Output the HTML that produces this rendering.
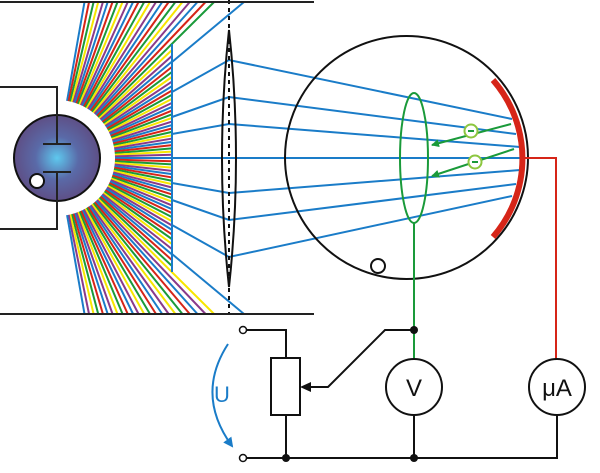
<!DOCTYPE html>
<html><head><meta charset="utf-8"><style>html,body{margin:0;padding:0;background:#fff;width:600px;height:473px;overflow:hidden}</style></head>
<body>
<svg id="s" width="600" height="473" viewBox="0 0 600 473" xmlns="http://www.w3.org/2000/svg">
<defs>
<radialGradient id="g" cx="0.5" cy="0.5" r="0.5"><stop offset="0" stop-color="#5ec8ee"/><stop offset="0.5" stop-color="#5a6aa8"/><stop offset="1" stop-color="#5e4f86"/></radialGradient>
<marker id="ag" markerWidth="8" markerHeight="8" refX="7" refY="4" orient="auto" markerUnits="userSpaceOnUse"><path d="M0,0 L8,4 L0,8 Z" fill="#1a9a3a"/></marker>
<marker id="ab" markerWidth="10" markerHeight="10" refX="8" refY="5" orient="auto" markerUnits="userSpaceOnUse"><path d="M0,0 L10,5 L0,10 Z" fill="#1a7cc8"/></marker>
</defs>
<g id="rays" stroke-width="2"></g>
<circle cx="57" cy="158" r="57" fill="#fff"/>
<line x1="172" y1="44" x2="172" y2="272" stroke="#1a7cc8" stroke-width="2"/>
<g stroke="#1a7cc8" stroke-width="2" fill="none">
<polyline points="172,62 244,2"/>
<polyline points="172,254 244,314"/>
<polyline points="172,92 229,60 512,119"/>
<polyline points="172,117 229,97 516,134"/>
<polyline points="172,134 229,124 520,147"/>
<polyline points="172,158 520,158"/>
<polyline points="172,183 229,193 520,170"/>
<polyline points="172,200 229,220 516,184"/>
<polyline points="172,225 229,257 512,196"/>
</g>
<path d="M229,30 Q243,158 229,287 Q215,158 229,30 Z" fill="none" stroke="#111" stroke-width="2"/>
<line x1="229" y1="0" x2="229" y2="314" stroke="#111" stroke-width="2" stroke-dasharray="4,4"/>
<line x1="0" y1="2" x2="314" y2="2" stroke="#222" stroke-width="2"/>
<line x1="0" y1="314" x2="314" y2="314" stroke="#222" stroke-width="2"/>
<circle cx="57" cy="158" r="43" fill="url(#g)" stroke="#111" stroke-width="2"/>
<g stroke="#222" stroke-width="2" fill="none">
<polyline points="0,87 57,87 57,144"/>
<polyline points="0,229 57,229 57,172"/>
<line x1="43" y1="144" x2="71" y2="144"/>
<line x1="43" y1="172" x2="71" y2="172"/>
</g>
<circle cx="37" cy="181" r="7" fill="#fff" stroke="#111" stroke-width="2"/>
<circle cx="406.5" cy="157.5" r="121.5" fill="none" stroke="#111" stroke-width="2"/>
<circle cx="378" cy="266" r="7" fill="none" stroke="#111" stroke-width="2"/>
<path d="M493,80 A119.4,119.4 0 0 1 493,237" fill="none" stroke="#d62518" stroke-width="6"/>
<polyline points="522,158 556,158 556,359" fill="none" stroke="#d62518" stroke-width="2"/>
<ellipse cx="414" cy="158" rx="14" ry="65" fill="none" stroke="#1a9a3a" stroke-width="2"/>
<line x1="414" y1="223" x2="414" y2="359" stroke="#1a9a3a" stroke-width="2"/>
<line x1="511" y1="124" x2="432" y2="145" stroke="#1a9a3a" stroke-width="2" marker-end="url(#ag)"/>
<line x1="514" y1="149" x2="432" y2="176" stroke="#1a9a3a" stroke-width="2" marker-end="url(#ag)"/>
<g fill="#fff" stroke="#8cc63f" stroke-width="2"><circle cx="471" cy="131" r="6.5"/><circle cx="475" cy="162" r="6.5"/></g>
<g stroke="#1a9a3a" stroke-width="2"><line x1="468" y1="131" x2="474" y2="131"/><line x1="472" y1="162" x2="478" y2="162"/></g>
<g stroke="#111" stroke-width="2" fill="none">
<polyline points="246,330 286,330 286,358"/>
<rect x="271" y="358" width="29" height="57" fill="#fff"/>
<polyline points="286,415 286,458"/>
<polyline points="246,458 557,458 557,415"/>
<polyline points="414,330 385,330 328,387 308,387"/>
<line x1="414" y1="415" x2="414" y2="458"/>
</g>
<path d="M300,387 L311,382 L311,392 Z" fill="#111"/>
<g fill="#111"><circle cx="414" cy="330" r="4"/><circle cx="286" cy="458" r="4"/><circle cx="414" cy="458" r="4"/></g>
<g fill="#fff" stroke="#111" stroke-width="1.5"><circle cx="243" cy="330" r="3.5"/><circle cx="243" cy="458" r="3.5"/></g>
<circle cx="414" cy="387" r="28" fill="#fff" stroke="#111" stroke-width="2"/>
<circle cx="557" cy="387" r="28" fill="#fff" stroke="#111" stroke-width="2"/>
<text x="414" y="396" font-family="Liberation Sans, sans-serif" font-size="24" text-anchor="middle" fill="#111">V</text>
<text x="557" y="396" font-family="Liberation Sans, sans-serif" font-size="24" text-anchor="middle" fill="#111">μA</text>
<path d="M228,344 Q195,395 232,446" fill="none" stroke="#1a7cc8" stroke-width="2" marker-end="url(#ab)"/>
<text x="222" y="402" font-family="Liberation Sans, sans-serif" font-size="22" text-anchor="middle" fill="#1a7cc8">U</text>
</svg>
<script>
var g=document.getElementById('rays');var cols=['#1a7cc8','#d62518','#1a9a3a','#f7e600','#8a3a8a'];
var cx=57,cy=158,i=0;
for(var a=-80;a<=80.01;a+=1.6){var r=a*Math.PI/180,dx=Math.cos(r),dy=Math.sin(r);
var t=(172-cx)/dx,y=cy+dy*t,ex,ey;
if(y>=44&&y<=272){ex=172;ey=y;}else{var ty=dy<0?(2-cy)/dy:(314-cy)/dy;ex=cx+dx*ty;ey=cy+dy*ty;}
var l=document.createElementNS('http://www.w3.org/2000/svg','line');
l.setAttribute('x1',cx+dx*58);l.setAttribute('y1',cy+dy*58);l.setAttribute('x2',ex);l.setAttribute('y2',ey);
l.setAttribute('stroke',cols[i%5]);g.appendChild(l);i++;}
</script>
</body></html>
